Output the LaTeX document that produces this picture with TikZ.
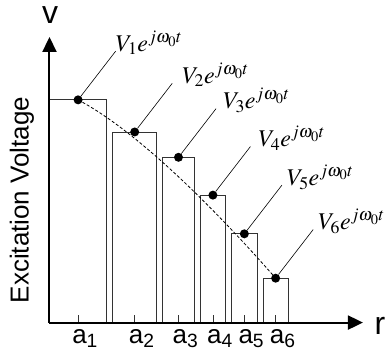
\documentclass[tikz,border=0pt]{standalone}
\usepackage{fontspec}
\usepackage{mathptmx}
\newfontfamily\arial{Liberation Sans}
\usetikzlibrary{arrows.meta,calc,positioning}

\begin{document}
\begin{tikzpicture}[
  bar/.style={draw=black!80, line width=0.8pt},
  dot/.style={circle, fill=black, inner sep=0pt, minimum size=9pt},
  lbl/.style={anchor=base west, inner ysep=0pt, font=\fontsize{24}{26}\selectfont},
  leader/.style={line width=0.6pt},
  axis/.style={line width=2pt, -{Triangle[length=15pt,width=14pt]}},
  sans/.style={inner sep=0pt, font=\arial\fontsize{26}{28}\selectfont},
  big/.style={inner sep=0pt, font=\arial\fontsize{32}{34}\selectfont}
]
\useasboundingbox (-1.74,-0.96) rectangle (11.83,11.34);

\coordinate (o) at (0,0);
\coordinate (xend) at (11.02,0);
\coordinate (yend) at (0,10.04);

% steps of the excitation
\foreach \l/\r/\t/\s [count=\i] in {0/2.01/7.83/0, 2.22/3.77/6.70/10, 3.98/5.09/5.81/7, 5.30/6.19/4.48/8, 6.40/7.30/3.12/5, 7.51/8.39/1.56/5}
{
  \draw[bar] (\l,0) rectangle (\r,\t);
  \draw[bar] ({(\l+\r)/2},0) -- ++(0,0.25);
  \node[dot] (d\i) at ({(\l+\r)/2},\t) {};
  \node[sans, anchor=base, xshift=7pt] (a\i) at ({(\l+\r)/2},-0.72) {a\textsubscript{\i}};
  \node[lbl, inner xsep=\s pt] (v\i) at ($(d\i)+(1.32,1.71)$) {$V_{\i}e^{j\omega_0t}$};
  \draw[leader] (d\i) -- (v\i.base west);
}

\draw[dash pattern=on 3pt off 2pt, line width=0.8pt] (d1.center) .. controls (3.18,6.68) and (5.99,3.80) .. (d6.center);

\draw[axis] (o) -- (xend);
\draw[axis] (o) -- (yend);

\node[big] (v) at (0.02,10.81) {v};
\node[big] (r) at (11.62,-0.12) {r};
\node[sans, rotate=90] (ylab) at (-0.97,4.31) {Excitation Voltage};
\end{tikzpicture}
\end{document}
